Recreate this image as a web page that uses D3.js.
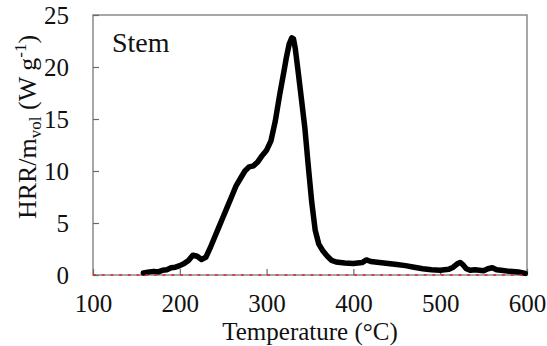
<!DOCTYPE html>
<html>
<head>
<meta charset="utf-8">
<script src="https://cdn.jsdelivr.net/npm/d3@7"></script>
<style>
  body { margin: 0; background: #fff; }
  svg text { font-family: "Liberation Serif", "Times New Roman", serif; fill: #111; }
</style>
</head>
<body>
<svg width="547" height="346"></svg>
<script>
// Temperature (°C) and HRR/m_vol (W g-1)
const temperature = [158, 165, 170, 175, 180, 185, 190, 195, 200, 205, 210, 215, 220, 225, 230, 235,
    240, 245, 250, 255, 260, 265, 270, 275, 280, 285, 290, 295, 300, 305, 310, 315, 320, 323, 326,
    329, 331, 333, 336, 340, 344, 348, 352, 356, 360, 365, 370, 375, 380, 390, 400, 410, 415, 420,
    430, 440, 450, 460, 470, 480, 490, 500, 510, 515, 520, 523, 526, 530, 535, 540, 550, 555, 560,
    565, 570, 580, 590, 598];
const hrr = [0.2, 0.3, 0.35, 0.3, 0.45, 0.5, 0.7, 0.75, 0.9, 1.1, 1.4, 1.9, 1.8, 1.5, 1.7, 2.6,
    3.6, 4.6, 5.6, 6.6, 7.6, 8.6, 9.3, 10.0, 10.4, 10.5, 10.9, 11.5, 12.0, 12.9, 14.8, 17.3, 19.6, 21.0, 22.2,
    22.8, 22.7, 21.8, 19.8, 17.0, 14.2, 10.5, 7.0, 4.3, 3.0, 2.3, 1.8, 1.4, 1.25, 1.15, 1.1, 1.2, 1.45, 1.3,
    1.2, 1.1, 1.0, 0.9, 0.75, 0.6, 0.5, 0.45, 0.55, 0.75, 1.1, 1.2, 1.0, 0.6, 0.45, 0.5, 0.4, 0.6, 0.7,
    0.5, 0.45, 0.35, 0.3, 0.15];
const xTicks = [100, 200, 300, 400, 500, 600];
const yTicks = [0, 5, 10, 15, 20, 25];
const baseline = [100, 600];

const margin = { top: 15, right: 20, bottom: 71, left: 93 };
const width = 547 - margin.left - margin.right;
const height = 346 - margin.top - margin.bottom;

const svg = d3.select("svg");
const g = svg.append("g")
    .attr("transform", "translate(" + margin.left + "," + margin.top + ")");

let x = d3.scaleLinear().domain([100, 600]).range([0, width]);
let y = d3.scaleLinear().domain([0, 25]).range([height, 0]);

// frame
g.append("rect")
    .attr("width", width)
    .attr("height", height)
    .attr("fill", "none")
    .attr("stroke", "#8a8a8a")
    .attr("stroke-width", 1.5);

// axes with inward ticks
const xAxis = g.append("g")
    .attr("transform", "translate(0," + height + ")")
    .call(d3.axisBottom(x).tickValues(xTicks).tickSizeInner(-6).tickSizeOuter(0).tickPadding(19));
const yAxis = g.append("g")
    .call(d3.axisLeft(y).tickValues(yTicks).tickSizeInner(-6).tickSizeOuter(0).tickPadding(24));
[xAxis, yAxis].forEach(a => {
    a.select(".domain").remove();
    a.selectAll(".tick line").attr("stroke", "#6a6a6a").attr("stroke-width", 1.2);
    a.selectAll(".tick text")
        .style("font-family", "'Liberation Serif', serif")
        .style("font-size", "25px")
        .attr("fill", "#111");
});

// data curve
const line = d3.line()
    .x((d, i) => x(temperature[i]))
    .y(d => y(d));
g.append("path")
    .datum(hrr)
    .attr("fill", "none")
    .attr("stroke", "#000")
    .attr("stroke-width", 5.5)
    .attr("stroke-linejoin", "round")
    .attr("stroke-linecap", "round")
    .attr("d", line);

// red dashed zero line
g.append("line")
    .attr("x1", x(baseline[0]))
    .attr("x2", x(baseline[1]))
    .attr("y1", y(0))
    .attr("y2", y(0))
    .attr("stroke", "#e8262a")
    .attr("stroke-width", 1.6)
    .attr("stroke-dasharray", "3,5.7");

// panel label
g.append("text")
    .attr("x", 19)
    .attr("y", 37)
    .style("font-size", "28px")
    .text("Stem");

// x-axis label
svg.append("text")
    .attr("x", 310)
    .attr("y", 340)
    .style("text-anchor", "middle")
    .style("font-size", "25px")
    .text("Temperature (°C)");

// y-axis label
const yl = svg.append("text")
    .attr("transform", "rotate(-90)")
    .attr("x", -127)
    .attr("y", 36)
    .style("text-anchor", "middle")
    .style("font-size", "26px");
yl.append("tspan").text("HRR/m");
yl.append("tspan").attr("dy", 5).style("font-size", "17px").text("vol");
yl.append("tspan").attr("dy", -5).text(" (W g");
yl.append("tspan").attr("dy", -10).style("font-size", "17px").text("-1");
yl.append("tspan").attr("dy", 10).text(")");
</script>
</body>
</html>
